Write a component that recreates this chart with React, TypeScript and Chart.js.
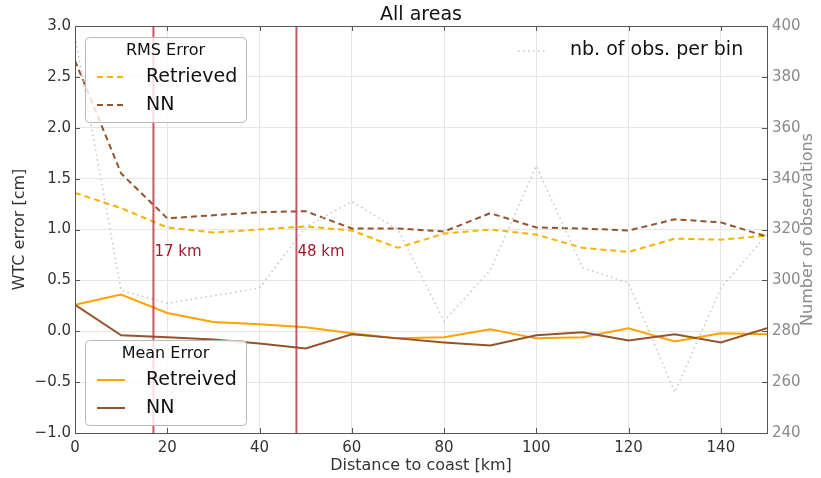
import React, { useEffect, useRef } from 'react';
import { Chart, registerables } from 'chart.js';

Chart.register(...registerables);

// ---------- data ----------
const distanceKm = [0, 10, 20, 30, 40, 50, 60, 70, 80, 90, 100, 110, 120, 130, 140, 150];
const rmsRetrieved = [1.36, 1.21, 1.02, 0.97, 1.0, 1.03, 0.99, 0.82, 0.96, 1.0, 0.95, 0.82, 0.78, 0.91, 0.9, 0.94];
const rmsNN = [2.66, 1.55, 1.11, 1.14, 1.17, 1.18, 1.01, 1.01, 0.98, 1.16, 1.02, 1.01, 0.99, 1.1, 1.07, 0.93];
const meanRetrieved = [0.26, 0.36, 0.18, 0.09, 0.07, 0.04, -0.02, -0.07, -0.06, 0.02, -0.07, -0.06, 0.03, -0.1, -0.02, -0.03];
const meanNN = [0.26, -0.04, -0.06, -0.08, -0.12, -0.17, -0.03, -0.07, -0.11, -0.14, -0.04, -0.01, -0.09, -0.03, -0.11, 0.03];
const obsPerBin = [396, 296, 291, 294, 297, 321, 331, 320, 284, 304, 345, 305, 299, 256, 297, 318];

const markerKm = [17, 48];
const markerLabels = ['17 km', '48 km'];
const markerLabelY = 0.78;

const titleText = 'All areas';
const xTitle = 'Distance to coast [km]';
const yTitle = 'WTC error [cm]';
const y1Title = 'Number of observations';
const rmsLegendTitle = 'RMS Error';
const meanLegendTitle = 'Mean Error';
const rmsLabels = ['Retrieved', 'NN'];
const meanLabels = ['Retreived', 'NN'];
const obsLabel = 'nb. of obs. per bin';

// ---------- styles ----------
const FONT = '"DejaVu Sans", sans-serif';
const C_RMS_RET = '#f5b400';
const C_MEAN_RET = '#ffa300';
const C_NN = '#93542b';
const C_OBS = '#c4c4c4';
const DASH = [6, 4];
const DOT = [1.5, 3.5];

const pts = (ys: number[]) => distanceKm.map((x, i) => ({ x, y: ys[i] }));

const fmtLeft = (v: number) => (v < 0 ? '\u2212' + Math.abs(v).toFixed(1) : v.toFixed(1));

const overlayPlugin = {
  id: 'overlay',
  afterDatasetsDraw(chart: any) {
    const { ctx, chartArea, scales } = chart;
    const { left, right, top, bottom } = chartArea;
    const xs = scales.x, ys = scales.y, y1s = scales.y1;
    const seg = (x1: number, y1: number, x2: number, y2: number) => {
      ctx.beginPath(); ctx.moveTo(x1, y1); ctx.lineTo(x2, y2); ctx.stroke();
    };
    ctx.save();

    // marker lines + labels
    markerKm.forEach((km, i) => {
      const px = xs.getPixelForValue(km);
      ctx.setLineDash([]);
      ctx.strokeStyle = 'rgba(192,44,62,0.8)';
      ctx.lineWidth = 2;
      seg(px, top, px, bottom);
      ctx.fillStyle = '#a3182f';
      ctx.font = `15px ${FONT}`;
      ctx.textAlign = 'left';
      ctx.textBaseline = 'middle';
      ctx.fillText(markerLabels[i], px + 1, ys.getPixelForValue(markerLabelY));
    });

    // frame + inward ticks
    ctx.setLineDash([]);
    ctx.strokeStyle = '#555';
    ctx.lineWidth = 1;
    ctx.strokeRect(Math.round(left) + 0.5, Math.round(top) + 0.5, Math.round(right - left), Math.round(bottom - top));
    xs.ticks.forEach((t: any) => {
      const px = Math.round(xs.getPixelForValue(t.value)) + 0.5;
      seg(px, bottom, px, bottom - 5);
      seg(px, top, px, top + 5);
    });
    ys.ticks.forEach((t: any) => {
      const py = Math.round(ys.getPixelForValue(t.value)) + 0.5;
      seg(left, py, left + 5, py);
    });
    y1s.ticks.forEach((t: any) => {
      const py = Math.round(y1s.getPixelForValue(t.value)) + 0.5;
      seg(right, py, right - 5, py);
    });

    // boxed legends
    const drawBox = (bx: number, by: number, title: string, labels: string[], colors: string[], dashes: number[][]) => {
      const w = 161, h = 85;
      ctx.setLineDash([]);
      ctx.beginPath();
      ctx.roundRect(bx + 0.5, by + 0.5, w, h, 4);
      ctx.fillStyle = 'rgba(255,255,255,0.8)';
      ctx.fill();
      ctx.strokeStyle = '#b8b8b8';
      ctx.lineWidth = 1;
      ctx.stroke();
      ctx.fillStyle = '#111';
      ctx.font = `16px ${FONT}`;
      ctx.textAlign = 'center';
      ctx.textBaseline = 'middle';
      ctx.fillText(title, bx + w / 2, by + 14);
      labels.forEach((lab, i) => {
        const ry = by + 40 + i * 28;
        ctx.strokeStyle = colors[i];
        ctx.lineWidth = 2;
        ctx.setLineDash(dashes[i]);
        seg(bx + 12, ry, bx + 40, ry);
        ctx.setLineDash([]);
        ctx.fillStyle = '#111';
        ctx.font = `19px ${FONT}`;
        ctx.textAlign = 'left';
        ctx.fillText(lab, bx + 61, ry);
      });
    };
    drawBox(left + 10, top + 11, rmsLegendTitle, rmsLabels, [C_RMS_RET, C_NN], [DASH, DASH]);
    drawBox(left + 10, top + 314, meanLegendTitle, meanLabels, [C_MEAN_RET, C_NN], [[], []]);

    // obs legend (no frame)
    ctx.strokeStyle = C_OBS;
    ctx.lineWidth = 1.5;
    ctx.setLineDash(DOT);
    seg(518, top + 25, 548, top + 25);
    ctx.setLineDash([]);
    ctx.fillStyle = '#111';
    ctx.font = `19px ${FONT}`;
    ctx.textAlign = 'left';
    ctx.textBaseline = 'middle';
    ctx.fillText(obsLabel, 570, top + 24);

    // chart title
    ctx.font = `19px ${FONT}`;
    ctx.textAlign = 'center';
    ctx.fillStyle = '#111';
    ctx.fillText(titleText, (left + right) / 2, 15);

    // right axis title (reads bottom to top)
    ctx.translate(808, (top + bottom) / 2);
    ctx.rotate(-Math.PI / 2);
    ctx.font = `16px ${FONT}`;
    ctx.fillStyle = '#8a8a8a';
    ctx.textAlign = 'center';
    ctx.fillText(y1Title, 0, 0);
    ctx.restore();
  },
};

export default function App() {
  const ref = useRef<HTMLCanvasElement | null>(null);
  useEffect(() => {
    document.body.style.margin = '0';
    const canvas = ref.current;
    if (!canvas) return;
    const chart = new Chart(canvas, {
      type: 'line',
      data: {
        datasets: [
          {
            label: 'RMS Retrieved', data: pts(rmsRetrieved), yAxisID: 'y', borderColor: C_RMS_RET,
            borderWidth: 2, borderDash: DASH, pointRadius: 0, tension: 0, order: 3,
          },
          {
            label: 'RMS NN', data: pts(rmsNN), yAxisID: 'y', borderColor: C_NN,
            borderWidth: 2, borderDash: DASH, pointRadius: 0, tension: 0, order: 2,
          },
          {
            label: 'Mean Retreived', data: pts(meanRetrieved), yAxisID: 'y', borderColor: C_MEAN_RET,
            borderWidth: 2, pointRadius: 0, tension: 0, order: 4,
          },
          {
            label: 'Mean NN', data: pts(meanNN), yAxisID: 'y', borderColor: C_NN,
            borderWidth: 2, pointRadius: 0, tension: 0, order: 1,
          },
          {
            label: 'nb. of obs. per bin', data: pts(obsPerBin), yAxisID: 'y1', borderColor: C_OBS,
            borderWidth: 1.5, borderDash: DOT, pointRadius: 0, tension: 0, order: 0,
          },
        ],
      },
      options: {
        animation: false,
        responsive: false,
        devicePixelRatio: 1,
        layout: { padding: { top: 26, left: 0, right: 0, bottom: 0 } },
        plugins: { legend: { display: false }, tooltip: { enabled: false }, title: { display: false } },
        scales: {
          x: {
            type: 'linear', min: 0, max: 150,
            ticks: { stepSize: 20, includeBounds: false, padding: 6, color: '#333', font: { family: FONT, size: 15 }, autoSkip: false, maxRotation: 0 },
            grid: { color: '#e6e6e6', drawTicks: false },
            border: { display: false },
            title: { display: true, text: xTitle, color: '#333', font: { family: FONT, size: 16 }, padding: { top: 0, bottom: 2.5 } },
            afterFit: (s: any) => { s.height = 45; },
          },
          y: {
            type: 'linear', position: 'left', min: -1, max: 3,
            ticks: { stepSize: 0.5, padding: 4, color: '#333', font: { family: FONT, size: 15 }, callback: (v: any) => fmtLeft(Number(v)) },
            grid: { color: '#e6e6e6', drawTicks: false },
            border: { display: false },
            title: { display: true, text: yTitle, color: '#333', font: { family: FONT, size: 16 }, padding: { top: 10.5, bottom: 0 } },
            afterFit: (s: any) => { s.width = 75; },
          },
          y1: {
            type: 'linear', position: 'right', min: 240, max: 400,
            ticks: { stepSize: 20, padding: 5, color: '#8a8a8a', font: { family: FONT, size: 15 } },
            grid: { drawOnChartArea: false, drawTicks: false },
            border: { display: false },
            afterFit: (s: any) => { s.width = 54; },
          },
        },
      },
      plugins: [overlayPlugin],
    } as any);
    return () => chart.destroy();
  }, []);
  return (
    <div style={{ width: 821, height: 478 }}>
      <canvas ref={ref} width={821} height={478} />
    </div>
  );
}
